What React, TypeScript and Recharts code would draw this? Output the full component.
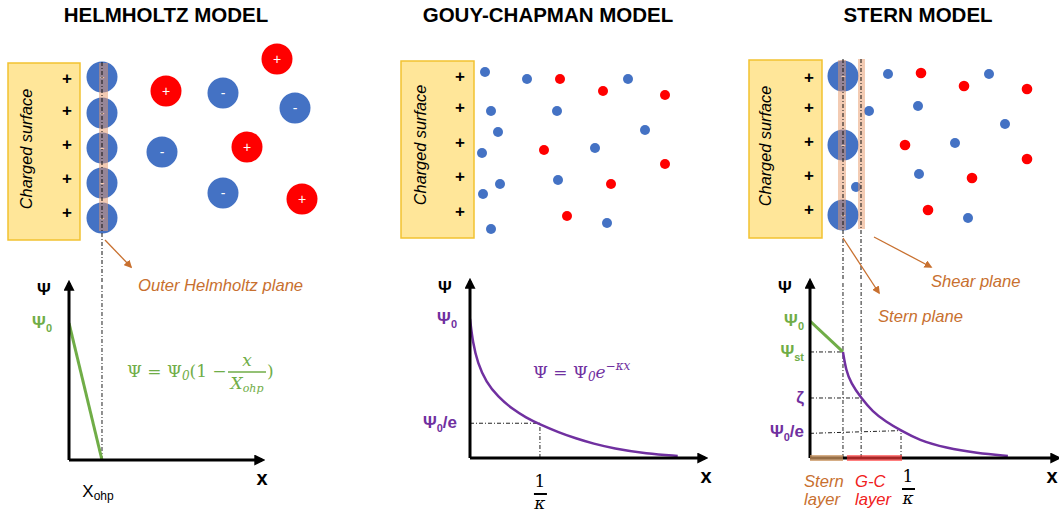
import React from 'react';
import {
  ScatterChart, Scatter, LineChart, Line, XAxis, YAxis, ReferenceArea, ReferenceLine,
} from 'recharts';

const SANS = '"Liberation Sans", Arial, sans-serif';
const SERIF = '"DejaVu Serif", "Liberation Serif", serif';
const ORANGE = '#C8702F';
const GREEN = '#70AD47';
const PURPLE = '#7030A0';
const BLUE = '#4472C4';
const RED = '#FF0000';
const DASH = '4 2 1 2';

const titles = ['HELMHOLTZ MODEL', 'GOUY-CHAPMAN MODEL', 'STERN MODEL'];

// sketch ions, in panel units (x right from the panel edge, y down from the top)
const helmholtzPlusY = [78, 110, 144, 178, 212];
const gouyPlusY = [76, 107, 142, 176, 211];
const sternPlusY = [77, 107, 141, 175, 209];

const helmholtzSurfaceIons = [
  { x: 102, y: 77, charge: '-' }, { x: 102, y: 113, charge: '-' }, { x: 102, y: 148, charge: '-' },
  { x: 102, y: 183, charge: '-' }, { x: 102, y: 218, charge: '-' },
];
const helmholtzBulkIons = [
  { x: 166, y: 91, charge: '+' }, { x: 223, y: 93, charge: '-' }, { x: 277, y: 59, charge: '+' },
  { x: 295, y: 108, charge: '-' }, { x: 162, y: 152, charge: '-' }, { x: 247, y: 147, charge: '+' },
  { x: 223, y: 193, charge: '-' }, { x: 302, y: 199, charge: '+' },
];
const gouyAnions = [
  { x: 132, y: 72 }, { x: 174, y: 79 }, { x: 275, y: 79 }, { x: 138, y: 111 }, { x: 204, y: 111 },
  { x: 145, y: 132 }, { x: 292, y: 130 }, { x: 129, y: 153 }, { x: 242, y: 148 }, { x: 147, y: 184 },
  { x: 205, y: 180 }, { x: 130, y: 194 }, { x: 138, y: 229 }, { x: 254, y: 223 },
];
const gouyCations = [
  { x: 207, y: 79 }, { x: 250, y: 91 }, { x: 312, y: 95 }, { x: 191, y: 150 },
  { x: 312, y: 164 }, { x: 258, y: 184 }, { x: 214, y: 216 },
];
const sternSurfaceIons = [
  { x: 137, y: 76, charge: '-' }, { x: 137, y: 145, charge: '-' }, { x: 137, y: 215, charge: '-' },
];
const sternAnions = [
  { x: 182, y: 74 }, { x: 283, y: 74 }, { x: 163, y: 111 }, { x: 212, y: 106 }, { x: 299, y: 124 },
  { x: 249, y: 143 }, { x: 213, y: 174 }, { x: 150, y: 187 }, { x: 262, y: 218 },
];
const sternCations = [
  { x: 215, y: 73 }, { x: 258, y: 86 }, { x: 321, y: 89 }, { x: 199, y: 145 },
  { x: 321, y: 159 }, { x: 266, y: 178 }, { x: 222, y: 210 },
];

// potential curves: x in units of X_ohp / (1/kappa) / stern plane, psi in units of psi0
const helmholtzPotential = [{ x: 0, psi: 1 }, { x: 1, psi: 0 }];
const gouyPotential = [
  { x: 0, psi: 1 }, { x: 0.04, psi: 0.83 }, { x: 0.11, psi: 0.683 }, { x: 0.23, psi: 0.547 },
  { x: 0.4, psi: 0.44 }, { x: 0.61, psi: 0.35 }, { x: 0.8, psi: 0.291 }, { x: 1, psi: 0.241 },
  { x: 1.27, psi: 0.184 }, { x: 1.51, psi: 0.141 }, { x: 1.77, psi: 0.102 }, { x: 2.04, psi: 0.07 },
  { x: 2.53, psi: 0.03 }, { x: 2.97, psi: 0.015 },
];
const sternInnerPotential = [{ x: 0, psi: 1 }, { x: 1, psi: 0.774 }];
const sternDiffusePotential = [
  { x: 1, psi: 0.774 }, { x: 1.09, psi: 0.642 }, { x: 1.24, psi: 0.547 }, { x: 1.55, psi: 0.438 },
  { x: 1.9, psi: 0.338 }, { x: 2.3, psi: 0.265 }, { x: 2.76, psi: 0.2 }, { x: 3.3, psi: 0.131 },
  { x: 4.12, psi: 0.073 }, { x: 5.06, psi: 0.036 }, { x: 6, psi: 0.015 },
];

const helmholtzYTicks = [1];
const helmholtzYLabels = [{ main: 'Ψ', sub: '0', color: GREEN }];
const gouyYTicks = [1, 0.25];
const gouyYLabels = [
  { main: 'Ψ', sub: '0', color: PURPLE },
  { main: 'Ψ', sub: '0', tail: '/e', color: PURPLE },
];
const sternYTicks = [1, 0.774, 0.438, 0.19];
const sternYLabels = [
  { main: 'Ψ', sub: '0', color: GREEN },
  { main: 'Ψ', sub: 'st', color: GREEN },
  { main: 'ζ', color: PURPLE },
  { main: 'Ψ', sub: '0', tail: '/e', color: PURPLE },
];
const helmholtzXTicks = [1];
const gouyXTicks = [1];
const sternXTicks = [2.76];

type TickText = { main: string; sub?: string; tail?: string; color: string };

const makeYTick = (ticks: number[], texts: TickText[]) => (props: any) => {
  const { x, y, payload } = props;
  const t = texts[ticks.indexOf(payload.value)];
  if (!t) return null;
  return (
    <text x={x} y={y + 5} textAnchor="end" fill={t.color} fontFamily={SANS} fontWeight="bold" fontSize={17}>
      {t.main}
      {t.sub ? <tspan fontSize={11} dy={4}>{t.sub}</tspan> : null}
      {t.tail ? <tspan fontSize={17} dy={-4}>{t.tail}</tspan> : null}
    </text>
  );
};

const XohpTick = (props: any) => (
  <text x={props.x - 4} y={props.y + 37} textAnchor="middle" fontFamily={SANS} fontSize={17} fill="#000">
    X<tspan fontSize={12} dy={3}>ohp</tspan>
  </text>
);

const makeFracTick = (dx: number, dy: number) => (props: any) => {
  const cx = props.x + dx;
  const y = props.y + dy;
  return (
    <g>
      <text x={cx} y={y + 28} textAnchor="middle" fontFamily={SERIF} fontSize={17} fill="#000">1</text>
      <line x1={cx - 6} x2={cx + 7} y1={y + 35} y2={y + 35} stroke="#000" strokeWidth={2} />
      <text x={cx} y={y + 50} textAnchor="middle" fontFamily={SERIF} fontStyle="italic" fontSize={17} fill="#000">κ</text>
    </g>
  );
};

const psiLabel = {
  content: (p: any) => {
    const vb = p.viewBox || {};
    return (
      <text x={vb.x + vb.width - 25} y={vb.y + 12} textAnchor="middle" fontFamily={SANS} fontWeight="bold" fontSize={17} fill="#000">Ψ</text>
    );
  },
};
const makeXLabel = (dx: number) => ({
  content: (p: any) => {
    const vb = p.viewBox || {};
    return (
      <text x={vb.x + vb.width + dx} y={vb.y + 25} textAnchor="middle" fontFamily={SANS} fontWeight="bold" fontSize={20} fill="#000">x</text>
    );
  },
});

const xAxisLine = { stroke: '#000', strokeWidth: 3, markerEnd: 'url(#axisHead)' };
const yAxisLine = { stroke: '#000', strokeWidth: 3, markerStart: 'url(#axisHead)' };

const ionShape = (r: number, withSign: boolean) => (props: any) => {
  const { cx, cy, payload } = props;
  const fill = payload.charge === '+' || payload.kind === 'cation' ? RED : BLUE;
  return (
    <g>
      <circle cx={cx} cy={cy} r={r} fill={fill} />
      {withSign ? (
        <text x={cx} y={cy + 5} textAnchor="middle" fontFamily={SANS} fontSize={14} fill="#fff">
          {payload.charge}
        </text>
      ) : null}
    </g>
  );
};

const plusShape = (props: any) => (
  <text x={props.cx} y={props.cy + 6} textAnchor="middle" fontFamily={SANS} fontWeight="bold" fontSize={17} fill="#000">+</text>
);

const sketchAxes = [
  <XAxis key="x" type="number" dataKey="x" domain={[0, 353]} hide />,
  <YAxis key="y" type="number" dataKey="y" domain={[0, 520]} reversed hide />,
];

const surface = (x1: number, x2: number, y1: number, y2: number) => (
  <ReferenceArea x1={x1} x2={x2} y1={y1} y2={y2} fill="#FFE699" fillOpacity={1} stroke="#F2C231" strokeWidth={1.5} />
);
const band = (x1: number, x2: number, y1: number, y2: number) => (
  <ReferenceArea x1={x1} x2={x2} y1={y1} y2={y2} fill="#E89868" fillOpacity={0.5} stroke="none" zIndex={700} />
);
const dashed = (x: number, y1: number, y2: number) => (
  <ReferenceLine segment={[{ x, y: y1 }, { x, y: y2 }]} stroke="#111" strokeDasharray={DASH} strokeWidth={1} zIndex={800} />
);
const pointer = (x1: number, y1: number, x2: number, y2: number) => (
  <ReferenceLine segment={[{ x: x1, y: y1 }, { x: x2, y: y2 }]} stroke={ORANGE} strokeWidth={1.3} markerEnd="url(#noteHead)" zIndex={800} />
);

function HelmholtzSketch() {
  return (
    <ScatterChart width={353} height={520} margin={{ top: 0, right: 0, bottom: 0, left: 0 }}>
      {sketchAxes}
      {surface(8, 80, 63, 240)}
      <Scatter data={helmholtzPlusY.map((y) => ({ x: 67, y }))} shape={plusShape} isAnimationActive={false} />
      <Scatter data={helmholtzSurfaceIons} shape={ionShape(15.5, true)} isAnimationActive={false} />
      <Scatter data={helmholtzBulkIons} shape={ionShape(15.5, true)} isAnimationActive={false} />
      {band(99, 108, 63, 231)}
      {dashed(102, 62, 283)}
      {pointer(105, 240, 131, 267)}
    </ScatterChart>
  );
}

function GouySketch() {
  return (
    <ScatterChart width={353} height={520} margin={{ top: 0, right: 0, bottom: 0, left: 0 }}>
      {sketchAxes}
      {surface(48, 121, 61, 238)}
      <Scatter data={gouyPlusY.map((y) => ({ x: 107, y }))} shape={plusShape} isAnimationActive={false} />
      <Scatter data={gouyAnions} shape={ionShape(5, false)} isAnimationActive={false} />
      <Scatter data={gouyCations.map((d) => ({ ...d, kind: 'cation' }))} shape={ionShape(5, false)} isAnimationActive={false} />
    </ScatterChart>
  );
}

function SternSketch() {
  return (
    <ScatterChart width={353} height={520} margin={{ top: 0, right: 0, bottom: 0, left: 0 }}>
      {sketchAxes}
      {surface(43, 116, 60, 238)}
      <Scatter data={sternPlusY.map((y) => ({ x: 103, y }))} shape={plusShape} isAnimationActive={false} />
      <Scatter data={sternSurfaceIons} shape={ionShape(15.5, true)} isAnimationActive={false} />
      <Scatter data={sternAnions} shape={ionShape(5, false)} isAnimationActive={false} />
      <Scatter data={sternCations.map((d) => ({ ...d, kind: 'cation' }))} shape={ionShape(5.3, false)} isAnimationActive={false} />
      {band(132, 140, 60, 230)}
      {band(152, 159, 59, 229)}
      {dashed(137, 59, 281)}
      {dashed(155, 59, 281)}
      {pointer(137, 238, 173, 293)}
      {pointer(168, 237, 225, 267)}
    </ScatterChart>
  );
}

const refDash = (x1: number, y1: number, x2: number, y2: number) => (
  <ReferenceLine segment={[{ x: x1, y: y1 }, { x: x2, y: y2 }]} stroke="#222" strokeDasharray={DASH} strokeWidth={1} />
);

function HelmholtzPlot() {
  return (
    <LineChart width={353} height={250} margin={{ top: 13, right: 91, bottom: 0, left: 0 }}>
      <XAxis type="number" dataKey="x" domain={[0, 5.85]} allowDataOverflow ticks={helmholtzXTicks}
        tick={XohpTick} tickLine={false} tickSize={0} tickMargin={0} height={60} axisLine={xAxisLine} label={makeXLabel(0)} />
      <YAxis type="number" dataKey="psi" domain={[0, 1.292]} allowDataOverflow ticks={helmholtzYTicks}
        tick={makeYTick(helmholtzYTicks, helmholtzYLabels)} tickLine={false} tickSize={0} tickMargin={17} width={69}
        axisLine={yAxisLine} label={psiLabel} />
      {refDash(1, 0, 1, 1.292)}
      <Line data={helmholtzPotential} dataKey="psi" type="linear" stroke={GREEN} strokeWidth={3} dot={false} isAnimationActive={false} />
    </LineChart>
  );
}

function GouyPlot() {
  return (
    <LineChart width={380} height={250} margin={{ top: 11, right: 28, bottom: 0, left: 0 }}>
      <XAxis type="number" dataKey="x" domain={[0, 3.36]} allowDataOverflow ticks={gouyXTicks}
        tick={makeFracTick(0, 1)} tickLine={false} tickSize={0} tickMargin={0} height={62} axisLine={xAxisLine} label={makeXLabel(1)} />
      <YAxis type="number" dataKey="psi" domain={[0, 1.273]} allowDataOverflow ticks={gouyYTicks}
        tick={makeYTick(gouyYTicks, gouyYLabels)} tickLine={false} tickSize={0} tickMargin={13} width={117}
        axisLine={yAxisLine} label={psiLabel} />
      {refDash(0, 0.25, 1, 0.25)}
      {refDash(1, 0, 1, 0.25)}
      <Line data={gouyPotential} dataKey="psi" type="basis" stroke={PURPLE} strokeWidth={2.5} dot={false} isAnimationActive={false} />
    </LineChart>
  );
}

function SternPlot() {
  return (
    <LineChart width={353} height={250} margin={{ top: 11, right: 1, bottom: 0, left: 0 }}>
      <XAxis type="number" dataKey="x" domain={[0, 7.52]} allowDataOverflow ticks={sternXTicks}
        tick={makeFracTick(7, -4)} tickLine={false} tickSize={0} tickMargin={0} height={62} axisLine={xAxisLine} label={makeXLabel(-6)} />
      <YAxis type="number" dataKey="psi" domain={[0, 1.292]} allowDataOverflow ticks={sternYTicks}
        tick={makeYTick(sternYTicks, sternYLabels)} tickLine={false} tickSize={0} tickMargin={6} width={104}
        axisLine={yAxisLine} label={psiLabel} />
      {refDash(1, 0, 1, 1.292)}
      {refDash(1.55, 0, 1.55, 1.292)}
      {refDash(0, 0.774, 1, 0.774)}
      {refDash(0, 0.438, 1.55, 0.438)}
      {refDash(0, 0.18, 2.76, 0.2)}
      {refDash(2.76, 0, 2.76, 0.2)}
      <ReferenceLine segment={[{ x: 0, y: 0 }, { x: 1, y: 0 }]} stroke="#C8935E" strokeOpacity={0.75} strokeWidth={6} zIndex={900} />
      <ReferenceLine segment={[{ x: 1.12, y: 0 }, { x: 2.79, y: 0 }]} stroke="#FF3B3B" strokeOpacity={0.65} strokeWidth={6} zIndex={900} />
      <Line data={sternInnerPotential} dataKey="psi" type="linear" stroke={GREEN} strokeWidth={3} dot={false} isAnimationActive={false} />
      <Line data={sternDiffusePotential} dataKey="psi" type="basis" stroke={PURPLE} strokeWidth={2.5} dot={false} isAnimationActive={false} />
    </LineChart>
  );
}

const titleX = [166, 548, 918];

export default function App() {
  const abs = (left: number, top: number): React.CSSProperties => ({ position: 'absolute', left, top });
  return (
    <div style={{ position: 'absolute', left: 0, top: 0, width: 1059, height: 520, background: '#fff', overflow: 'hidden' }}>
      <svg width={0} height={0} style={{ position: 'absolute' }}>
        <defs>
          <marker id="axisHead" viewBox="0 0 10 10" refX={7} refY={5} markerWidth={11} markerHeight={11}
            markerUnits="userSpaceOnUse" orient="auto-start-reverse">
            <path d="M0,0 L10,5 L0,10 z" fill="#000" />
          </marker>
          <marker id="noteHead" viewBox="0 0 10 10" refX={8} refY={5} markerWidth={8} markerHeight={8}
            markerUnits="userSpaceOnUse" orient="auto">
            <path d="M0,0 L10,5 L0,10 z" fill={ORANGE} />
          </marker>
        </defs>
      </svg>
      <div style={abs(0, 0)}><HelmholtzSketch /></div>
      <div style={abs(353, 0)}><GouySketch /></div>
      <div style={abs(706, 0)}><SternSketch /></div>
      <div style={abs(0, 270)}><HelmholtzPlot /></div>
      <div style={abs(353, 270)}><GouyPlot /></div>
      <div style={abs(706, 270)}><SternPlot /></div>
      <svg width={1059} height={520} style={{ position: 'absolute', left: 0, top: 0, pointerEvents: 'none' }}>
        {titles.map((t, i) => (
          <text key={t} x={titleX[i]} y={22} textAnchor="middle" fontFamily={SANS} fontWeight="bold" fontSize={20.5} fill="#000">{t}</text>
        ))}
        {[[26, 149], [420, 145], [765, 146]].map(([x, y]) => (
          <text key={x} transform={`translate(${x},${y}) rotate(-90)`} textAnchor="middle" dy={6}
            fontFamily={SANS} fontStyle="italic" fontSize={16.3} fill="#000">Charged surface</text>
        ))}
        <g fontFamily={SANS} fontStyle="italic" fontSize={16.6} fill={ORANGE}>
          <text x={138} y={291}>Outer Helmholtz plane</text>
          <text x={931} y={287}>Shear plane</text>
          <text x={878} y={322}>Stern plane</text>
          <text x={804} y={487}>Stern</text>
          <text x={804} y={505}>layer</text>
        </g>
        <g fontFamily={SANS} fontStyle="italic" fontSize={16.6} fill="#F02020">
          <text x={855} y={487}>G-C</text>
          <text x={855} y={505}>layer</text>
        </g>
        <g fill={GREEN} fontFamily={SERIF} fontSize={17}>
          <text x={127} y={377}>Ψ = Ψ<tspan fontSize={12} dy={3} fontStyle="italic">0</tspan><tspan dy={-3}>(1 −</tspan></text>
          <text x={247} y={366} textAnchor="middle" fontStyle="italic">x</text>
          <line x1={228} x2={266} y1={372} y2={372} stroke={GREEN} strokeWidth={1.5} />
          <text x={247} y={389} textAnchor="middle" fontStyle="italic">X<tspan fontSize={11} dy={3}>ohp</tspan></text>
          <text x={267} y={377}>)</text>
        </g>
        <g fill={PURPLE} fontFamily={SERIF} fontSize={17}>
          <text x={533} y={378}>Ψ = Ψ<tspan fontSize={12} dy={3} fontStyle="italic">0</tspan><tspan dy={-3} fontStyle="italic">e</tspan><tspan fontSize={12} dy={-8} fontStyle="italic">−κx</tspan></text>
        </g>
      </svg>
    </div>
  );
}
